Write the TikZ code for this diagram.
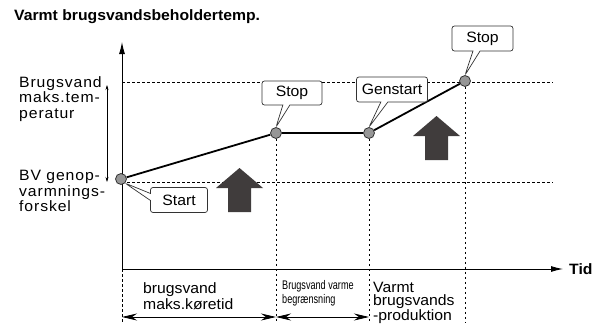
\documentclass[tikz,border=0pt]{standalone}
\usepackage{fontspec}
\setmainfont{Liberation Sans}[FakeStretch=1.05]
\newfontfamily\narrowfont[FakeStretch=0.73]{Liberation Sans}
\newfontfamily\spacedfont[FakeStretch=1.05,LetterSpace=6]{Liberation Sans}
\usetikzlibrary{arrows.meta,positioning,shapes.callouts}
\definecolor{PointGray}{RGB}{150,150,150}
\definecolor{ArrowDark}{RGB}{64,60,60}

\begin{document}
\begin{tikzpicture}[x=1pt, y=1pt,
    lbl/.style={font=\fontsize{15}{15.5}\selectfont, align=left, inner sep=0pt, anchor=north west},
    pt/.style={circle, draw=black!80, fill=PointGray, line width=0.8pt, minimum size=11pt, inner sep=0pt},
    tag/.style={rectangle callout, draw=black!80, fill=white, rounded corners=2.5pt, line width=0.7pt,
                callout pointer width=7pt, font=\fontsize{15}{16}\selectfont, inner sep=0pt},
    guide/.style={dash pattern=on 2.5pt off 2.5pt, line width=0.8pt},
    axis/.style={-{Latex[length=12pt,width=6pt]}, line width=0.9pt},
    span/.style={{Stealth[length=15pt,width=7pt]}-{Stealth[length=15pt,width=7pt]}, line width=0.8pt},
    curve/.style={line width=1.8pt},
    bigup/.pic={\fill[ArrowDark] (-11.5,0) -- (-11.5,24) -- (-23.5,24) -- (0,44) -- (23.5,24) -- (11.5,24) -- (11.5,0) -- cycle;}
]
    \useasboundingbox (0,0) rectangle (595,325);

    % title
    \node[font=\bfseries\fontsize{15}{16}\selectfont, anchor=north west, inner sep=0pt] (title) at (14,316) {Varmt brugsvandsbeholdertemp.};

    % axes
    \coordinate (O) at (122,56);
    \coordinate (ytop) at (122,283);
    \coordinate (xend) at (563,56);
    \coordinate (bot) at (0,3);
    \coordinate (spanrow) at (0,8);
    \coordinate (tmax) at (122,243);
    \coordinate (tmin) at (122,143);
    \coordinate (guideend) at (553,0);
    \draw[axis] (O) -- (ytop);
    \draw[axis] (O) -- (xend);
    \node[font=\bfseries\fontsize{15}{16}\selectfont, right=6pt of xend, inner sep=0pt] (tid) {Tid};

    % temperature levels
    \draw[guide] (tmax) -- (tmax -| guideend);
    \draw[guide] (tmin) -- (tmin -| guideend);
    \draw[guide] (O) -- (O |- bot);

    % points
    \node[pt] (p0) at (121,146) {};
    \node[pt] (p1) at (276,192) {};
    \node[pt] (p2) at (369,192) {};
    \node[pt] (p3) at (465,244) {};
    \draw[curve] (p0) -- (p1) -- (p2) -- (p3);
    \draw[guide] (p1) -- (p1 |- bot);
    \draw[guide] (p2) -- (p2 |- bot);
    \draw[guide] (p3) -- (p3 |- bot);

    % callouts
    \node[tag, minimum width=57pt, minimum height=25pt, callout absolute pointer={(p0.-45)}] (start) at (179,125) {Start};
    \node[tag, minimum width=60pt, minimum height=24pt, callout absolute pointer={(p1.north)}] (stop1) at (292,232) {Stop};
    \node[tag, minimum width=71pt, minimum height=25pt, callout absolute pointer={(p2.north)}] (genstart) at (392,235.5) {Genstart};
    \node[tag, minimum width=61pt, minimum height=25pt, callout absolute pointer={(p3.north)}] (stop2) at (482.5,286.5) {Stop};

    % heating arrows
    \pic (heat1) at (239.5,113) {bigup};
    \pic (heat2) at (436.5,165) {bigup};

    % left labels
    \node[lbl, font=\spacedfont\fontsize{15}{15.5}\selectfont] (maxlbl) at (19,249) {Brugsvand\\maks.tem-\\peratur};
    \node[lbl, font=\spacedfont\fontsize{15}{15.5}\selectfont] (difflbl) at (19,155) {BV genop-\\varmnings-\\forskel};
    \coordinate (difftop) at (107,240);
    \coordinate (diffbot) at (107,143);
    \draw[{Stealth[length=5pt,width=3pt]}-{Stealth[length=5pt,width=3pt]}, line width=0.5pt] (difftop) -- (diffbot);

    % time spans
    \draw[span] (O |- spanrow) -- (p1 |- spanrow);
    \draw[span] (p1 |- spanrow) -- (p2 |- spanrow);
    \node[lbl, font=\fontsize{15}{16.5}\selectfont] (runlbl) at (143,43) {brugsvand\\maks.k\o retid};
    \node[lbl, font=\narrowfont\fontsize{12.5}{14}\selectfont] (limlbl) at (282,45) {Brugsvand varme\\begr\ae nsning};
    \node[lbl, font=\fontsize{15}{13.5}\selectfont] (prodlbl) at (373,43.5) {Varmt\\brugsvands\\-produktion};
\end{tikzpicture}
\end{document}
